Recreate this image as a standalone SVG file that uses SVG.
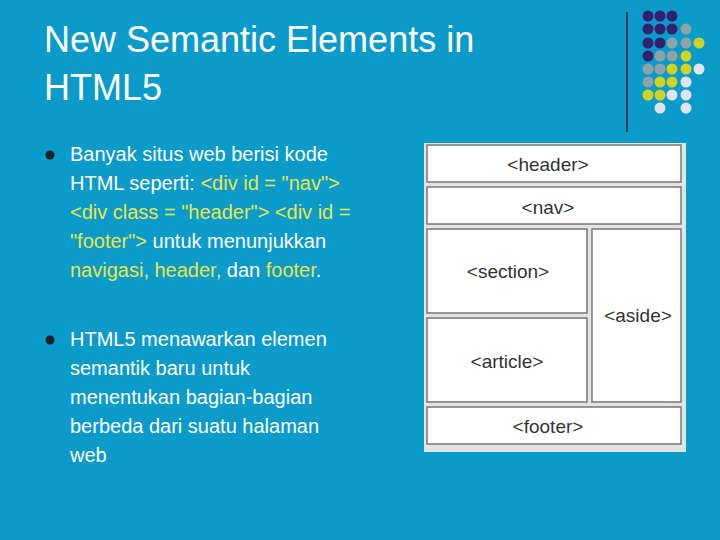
<svg xmlns="http://www.w3.org/2000/svg" width="720" height="540" viewBox="0 0 720 540">
<style>
.t{font-family:"Liberation Sans",Arial,sans-serif;fill:#fff}
.b{font-family:"Liberation Sans",Arial,sans-serif;font-size:20px;fill:#fff}
.y{fill:#e8e64a}
.box{fill:#fff;stroke:#777;stroke-width:1.5}
.lb{font-family:"Liberation Sans",Arial,sans-serif;font-size:19px;fill:#333;text-anchor:middle}
.P{fill:#35206e}.G{fill:#8ea3a8}.Y{fill:#cfd325}.L{fill:#dfe3f2}
</style>
<rect width="720" height="540" fill="#0a9bcb"/>
<g id="title"><text class="t" x="44" y="52" font-size="36">New Semantic Elements in</text><text class="t" x="44" y="100" font-size="36">HTML5</text></g>
<g id="deco">
<line x1="627" y1="12" x2="627" y2="132" stroke="#222" stroke-width="1.5"/>
<g>
<circle class="P" cx="648" cy="16" r="5.5"/><circle class="P" cx="660" cy="16" r="5.5"/><circle class="P" cx="672" cy="16" r="5.5"/>
<circle class="P" cx="648" cy="29" r="5.5"/><circle class="P" cx="660" cy="29" r="5.5"/><circle class="P" cx="672" cy="29" r="5.5"/><circle class="G" cx="686" cy="29" r="5.5"/>
<circle class="P" cx="648" cy="43" r="5.5"/><circle class="P" cx="660" cy="43" r="5.5"/><circle class="G" cx="672" cy="43" r="5.5"/><circle class="G" cx="686" cy="43" r="5.5"/><circle class="Y" cx="699" cy="43" r="5.5"/>
<circle class="P" cx="648" cy="56" r="5.5"/><circle class="G" cx="660" cy="56" r="5.5"/><circle class="G" cx="672" cy="56" r="5.5"/><circle class="Y" cx="686" cy="56" r="5.5"/>
<circle class="G" cx="648" cy="69" r="5.5"/><circle class="G" cx="660" cy="69" r="5.5"/><circle class="Y" cx="672" cy="69" r="5.5"/><circle class="Y" cx="686" cy="69" r="5.5"/><circle class="L" cx="699" cy="69" r="5.5"/>
<circle class="G" cx="648" cy="82" r="5.5"/><circle class="Y" cx="660" cy="82" r="5.5"/><circle class="Y" cx="672" cy="82" r="5.5"/><circle class="L" cx="686" cy="82" r="5.5"/>
<circle class="Y" cx="648" cy="95" r="5.5"/><circle class="Y" cx="660" cy="95" r="5.5"/><circle class="L" cx="672" cy="95" r="5.5"/><circle class="L" cx="686" cy="95" r="5.5"/>
<circle class="L" cx="660" cy="108" r="5.5"/><circle class="L" cx="686" cy="108" r="5.5"/>
</g></g>
<g id="bullets">
<circle cx="50" cy="155" r="4.5" fill="#222"/><circle cx="50" cy="340" r="4.5" fill="#222"/>
<text class="b"><tspan x="70" y="161">Banyak situs web berisi kode</tspan><tspan x="70" y="190">HTML seperti: <tspan class="y">&lt;div id = "nav"&gt;</tspan></tspan><tspan x="70" y="219" class="y">&lt;div class = "header"&gt; &lt;div id =</tspan><tspan x="70" y="248"><tspan class="y">"footer"&gt;</tspan> untuk menunjukkan</tspan><tspan x="70" y="277"><tspan class="y">navigasi, header,</tspan> dan <tspan class="y">footer</tspan>.</tspan></text>
<text class="b"><tspan x="70" y="346">HTML5 menawarkan elemen</tspan><tspan x="70" y="375">semantik baru untuk</tspan><tspan x="70" y="404">menentukan bagian-bagian</tspan><tspan x="70" y="433">berbeda dari suatu halaman</tspan><tspan x="70" y="462">web</tspan></text>
</g>
<rect x="424" y="143" width="262" height="309" fill="#e4e4e4"/>
<g id="header"><rect class="box" x="427" y="145" width="254" height="37"/><text class="lb" x="548" y="171">&lt;header&gt;</text></g>
<g id="nav"><rect class="box" x="427" y="187" width="254" height="37"/><text class="lb" x="548" y="214">&lt;nav&gt;</text></g>
<g id="section"><rect class="box" x="427" y="229" width="160" height="84"/><text class="lb" x="508" y="278">&lt;section&gt;</text></g>
<g id="article"><rect class="box" x="427" y="318" width="160" height="84"/><text class="lb" x="507" y="368">&lt;article&gt;</text></g>
<g id="aside"><rect class="box" x="592" y="229" width="89" height="173"/><text class="lb" x="638" y="322">&lt;aside&gt;</text></g>
<g id="footer"><rect class="box" x="427" y="407" width="254" height="37"/><text class="lb" x="548" y="433">&lt;footer&gt;</text></g>
<g id="connectors"/>
</svg>
